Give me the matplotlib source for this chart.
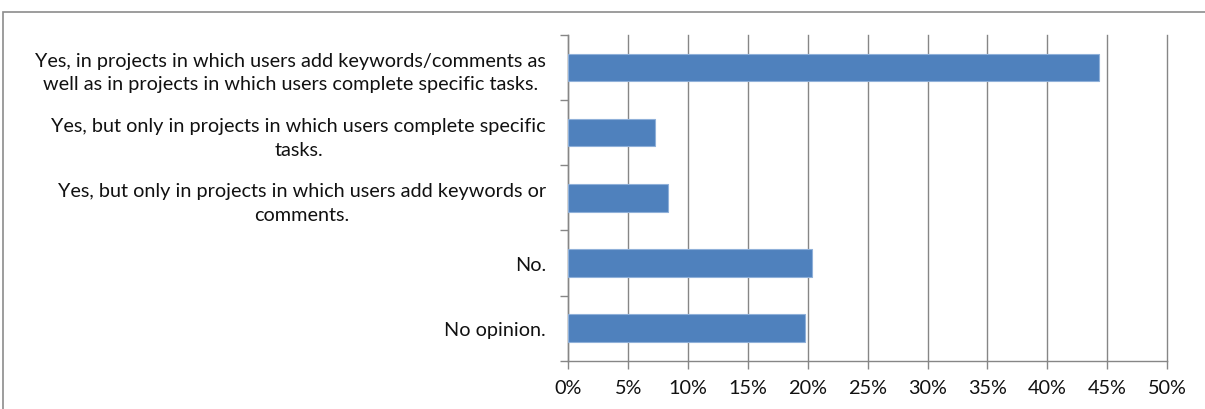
import matplotlib.pyplot as plt
from matplotlib.patches import Rectangle

# survey answers, top to bottom, and the share of respondents for each
answers = [
    "Yes, in projects in which users add keywords/comments as\nwell as in projects in which users complete specific tasks.",
    "Yes, but only in projects in which users complete specific\ntasks.",
    "Yes, but only in projects in which users add keywords or\ncomments.",
    "No.",
    "No opinion.",
]
shares = [44.3, 7.2, 8.35, 20.35, 19.8]
x_ticks = list(range(0, 55, 5))

plt.rcParams['font.family'] = ['Lato', 'DejaVu Sans']

fig = plt.figure(figsize=(12.05, 4.10), dpi=100)
ax = fig.add_axes([0.4716, 0.1178, 0.4969, 0.7942])

pos = list(range(len(answers)))
ax.barh(pos, shares, height=0.42, color='#4f81bd', edgecolor='#8fb0d9',
        linewidth=0.8, zorder=3)

ax.set_ylim(len(answers) - 0.5, -0.5)
ax.set_xlim(0, 50)

# category separators on the value axis
ax.set_yticks([p + 0.5 for p in range(-1, len(answers))])
ax.set_yticklabels([])
ax.set_yticks(pos, minor=True)
ax.set_yticklabels(answers, minor=True, fontsize=14.3, color='#111111',
                   multialignment='center', linespacing=1.45)
ax.tick_params(axis='y', which='major', length=6, width=1, color='#868686',
               direction='out')
ax.tick_params(axis='y', which='minor', length=0, pad=16)

ax.set_xticks(x_ticks)
ax.set_xticklabels([f"{t}%" for t in x_ticks], fontsize=14.3, color='#111111')
ax.tick_params(axis='x', length=6, width=1, color='#868686', direction='out',
               pad=7)

ax.grid(axis='x', color='#868686', linewidth=1, zorder=0)
for gl in ax.get_xgridlines():
    gl.set_clip_on(False)
for side in ['top', 'right']:
    ax.spines[side].set_visible(False)
for side in ['left', 'bottom']:
    ax.spines[side].set_color('#868686')
    ax.spines[side].set_linewidth(1)

# chart area border
fig.patches.append(Rectangle((3 / 1205, -0.05), 1.1, 1 - 13 / 410 + 0.05,
                             transform=fig.transFigure, fill=False,
                             edgecolor='#8c8c8c', linewidth=1.2))

fig.savefig('out.png', dpi=100)
